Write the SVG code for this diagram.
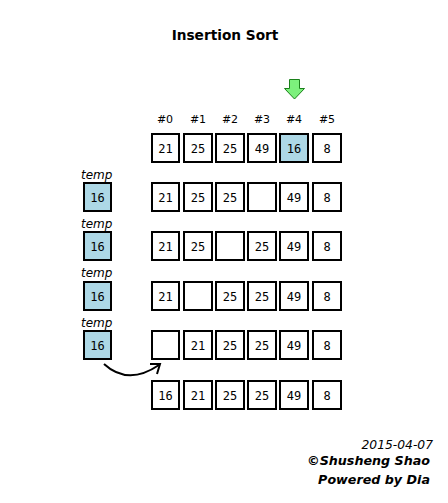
<svg xmlns="http://www.w3.org/2000/svg" width="448" height="503" viewBox="0 0 448 503">
<style>
.b{fill:#fff;stroke:#000;stroke-width:2}
.t{fill:#add8e6;stroke:#000;stroke-width:2}
.n{font-family:"DejaVu Sans Mono",monospace;font-size:12px;text-anchor:middle;fill:#000}
.h{font-family:"DejaVu Sans",sans-serif;font-size:11px;text-anchor:middle;fill:#000}
.i{font-family:"DejaVu Sans",sans-serif;font-size:12px;font-style:italic;fill:#000}
</style>
<rect width="448" height="503" fill="#fff"/>
<text x="225" y="40" font-family="DejaVu Sans,sans-serif" font-size="13.7" font-weight="bold" text-anchor="middle">Insertion Sort</text>
<g id="pointer"><path d="M289.5,79.5 h10 v9 h5 l-10,10.5 l-10,-10.5 h5 z" fill="#7cf07c" stroke="#1a801a" stroke-width="1"/></g>
<g id="headers">
<text class="h" x="165" y="123">#0</text><text class="h" x="198" y="123">#1</text><text class="h" x="230" y="123">#2</text><text class="h" x="262" y="123">#3</text><text class="h" x="294" y="123">#4</text><text class="h" x="327" y="123">#5</text>
</g>
<g id="row0">
<rect class="b" x="152" y="134" width="27" height="28"/><text class="n" x="165.5" y="153">21</text>
<rect class="b" x="184" y="134" width="28" height="28"/><text class="n" x="198" y="153">25</text>
<rect class="b" x="216" y="134" width="28" height="28"/><text class="n" x="230" y="153">25</text>
<rect class="b" x="248" y="134" width="28" height="28"/><text class="n" x="262" y="153">49</text>
<rect class="t" x="280" y="134" width="28" height="28"/><text class="n" x="294" y="153">16</text>
<rect class="b" x="313" y="134" width="28" height="28"/><text class="n" x="327" y="153">8</text>
</g>
<g id="row1">
<rect class="b" x="152" y="183" width="27" height="28"/><text class="n" x="165.5" y="202">21</text>
<rect class="b" x="184" y="183" width="28" height="28"/><text class="n" x="198" y="202">25</text>
<rect class="b" x="216" y="183" width="28" height="28"/><text class="n" x="230" y="202">25</text>
<rect class="b" x="248" y="183" width="28" height="28"/>
<rect class="b" x="280" y="183" width="28" height="28"/><text class="n" x="294" y="202">49</text>
<rect class="b" x="313" y="183" width="28" height="28"/><text class="n" x="327" y="202">8</text>
</g>
<g id="row2">
<rect class="b" x="152" y="232" width="27" height="28"/><text class="n" x="165.5" y="251">21</text>
<rect class="b" x="184" y="232" width="28" height="28"/><text class="n" x="198" y="251">25</text>
<rect class="b" x="216" y="232" width="28" height="28"/>
<rect class="b" x="248" y="232" width="28" height="28"/><text class="n" x="262" y="251">25</text>
<rect class="b" x="280" y="232" width="28" height="28"/><text class="n" x="294" y="251">49</text>
<rect class="b" x="313" y="232" width="28" height="28"/><text class="n" x="327" y="251">8</text>
</g>
<g id="row3">
<rect class="b" x="152" y="282" width="27" height="28"/><text class="n" x="165.5" y="301">21</text>
<rect class="b" x="184" y="282" width="28" height="28"/>
<rect class="b" x="216" y="282" width="28" height="28"/><text class="n" x="230" y="301">25</text>
<rect class="b" x="248" y="282" width="28" height="28"/><text class="n" x="262" y="301">25</text>
<rect class="b" x="280" y="282" width="28" height="28"/><text class="n" x="294" y="301">49</text>
<rect class="b" x="313" y="282" width="28" height="28"/><text class="n" x="327" y="301">8</text>
</g>
<g id="row4">
<rect class="b" x="152" y="331" width="27" height="28"/>
<rect class="b" x="184" y="331" width="28" height="28"/><text class="n" x="198" y="350">21</text>
<rect class="b" x="216" y="331" width="28" height="28"/><text class="n" x="230" y="350">25</text>
<rect class="b" x="248" y="331" width="28" height="28"/><text class="n" x="262" y="350">25</text>
<rect class="b" x="280" y="331" width="28" height="28"/><text class="n" x="294" y="350">49</text>
<rect class="b" x="313" y="331" width="28" height="28"/><text class="n" x="327" y="350">8</text>
</g>
<g id="row5">
<rect class="b" x="152" y="381" width="27" height="28"/><text class="n" x="165.5" y="400">16</text>
<rect class="b" x="184" y="381" width="28" height="28"/><text class="n" x="198" y="400">21</text>
<rect class="b" x="216" y="381" width="28" height="28"/><text class="n" x="230" y="400">25</text>
<rect class="b" x="248" y="381" width="28" height="28"/><text class="n" x="262" y="400">25</text>
<rect class="b" x="280" y="381" width="28" height="28"/><text class="n" x="294" y="400">49</text>
<rect class="b" x="313" y="381" width="28" height="28"/><text class="n" x="327" y="400">8</text>
</g>
<g id="temp1"><text class="i" x="81" y="179">temp</text><rect class="t" x="84" y="183" width="27" height="28"/><text class="n" x="97.5" y="202">16</text></g>
<g id="temp2"><text class="i" x="81" y="228">temp</text><rect class="t" x="84" y="232" width="27" height="28"/><text class="n" x="97.5" y="251">16</text></g>
<g id="temp3"><text class="i" x="81" y="277">temp</text><rect class="t" x="84" y="282" width="27" height="28"/><text class="n" x="97.5" y="301">16</text></g>
<g id="temp4"><text class="i" x="81" y="327">temp</text><rect class="t" x="84" y="331" width="27" height="28"/><text class="n" x="97.5" y="350">16</text></g>
<g id="connectors">
<path d="M104,364 Q128,386 159,365" fill="none" stroke="#000" stroke-width="2"/>
<path d="M150,364 L160,364 L157,374" fill="none" stroke="#000" stroke-width="2"/>
</g>
<g id="footer" font-family="DejaVu Sans,sans-serif" font-style="italic" text-anchor="end">
<text x="433" y="449" font-size="12.3">2015-04-07</text>
<text x="430" y="465" font-size="12.7" font-weight="bold">©Shusheng Shao</text>
<text x="430" y="484" font-size="12.7" font-weight="bold">Powered by Dia</text>
</g>
</svg>
